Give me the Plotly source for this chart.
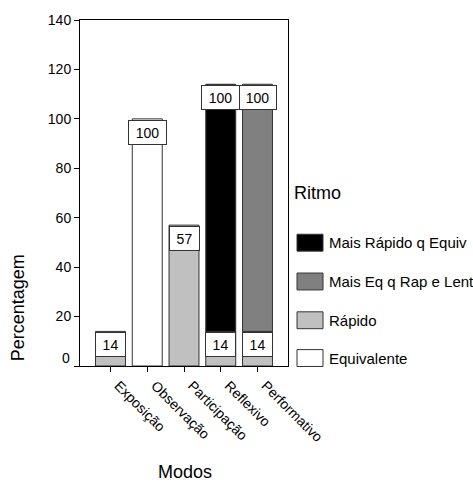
import plotly.graph_objects as go

# Data: percentage per mode, split by rhythm category
modos = ["Exposição", "Observação", "Participação", "Reflexivo", "Performativo"]
series_names = ["Equivalente", "Rápido", "Mais Eq q Rap e Lent", "Mais Rápido q Equiv"]
equivalente = [0, 100, 0, 0, 0]
rapido = [14, 0, 57, 14, 14]
mais_eq_q_rap_e_lent = [0, 0, 0, 0, 100]
mais_rapido_q_equiv = [0, 0, 0, 100, 0]
y_ticks = [0, 20, 40, 60, 80, 100, 120, 140]

series_values = [equivalente, rapido, mais_eq_q_rap_e_lent, mais_rapido_q_equiv]
series_colors = ["#ffffff", "#c0c0c0", "#808080", "#000000"]

FONT = "Liberation Sans"
W, H = 473, 483
M_L, M_R, M_T, M_B = 80, 185, 18, 117
PLOT_W = W - M_L - M_R
PLOT_H = H - M_T - M_B

fig = go.Figure()
annotations = []
base = [0] * len(modos)
for name, vals, color in zip(series_names, series_values, series_colors):
    ys = [v if v > 0 else None for v in vals]
    fig.add_trace(go.Bar(
        x=modos, y=ys, base=base[:], name=name,
        marker=dict(color=color, line=dict(color="#333333", width=1)),
        width=0.815, showlegend=False,
    ))
    for i, v in enumerate(vals):
        if v > 0:
            top = base[i] + v
            txt = str(v)
            annotations.append(dict(
                x=modos[i], y=top, xref="x", yref="y", text=txt,
                showarrow=False, yanchor="top", xanchor="center", yshift=-1,
                width=27 if len(txt) < 3 else 35, height=21,
                bgcolor="white", bordercolor="#333333", borderwidth=1, borderpad=1,
                font=dict(family=FONT, size=14, color="black"),
            ))
            base[i] = top

# "0" tick label sits slightly above the axis baseline
annotations.append(dict(
    x=0, y=0, xref="paper", yref="y", text="0", showarrow=False,
    xanchor="right", yanchor="middle", xshift=-8, yshift=8,
    font=dict(family=FONT, size=14, color="black"),
))

# Axis titles
annotations.append(dict(
    x=(18 - M_L) / PLOT_W, y=(H - M_B - 308) / PLOT_H, xref="paper", yref="paper",
    text="Percentagem", textangle=-90, showarrow=False,
    xanchor="center", yanchor="middle",
    font=dict(family=FONT, size=18, color="black"),
))
annotations.append(dict(
    x=(185 - M_L) / PLOT_W, y=(H - M_B - 473) / PLOT_H, xref="paper", yref="paper",
    text="Modos", showarrow=False, xanchor="center", yanchor="middle",
    font=dict(family=FONT, size=18, color="black"),
))

# Legend: title plus swatches, top entry is the top of the stack
shapes = []
annotations.append(dict(
    x=(292 - M_L) / PLOT_W, y=(H - M_B - 192) / PLOT_H, xref="paper", yref="paper",
    text="Ritmo", showarrow=False, xanchor="left", yanchor="middle",
    font=dict(family=FONT, size=18, color="black"),
))
legend_rows = [242, 281, 320, 358]
for py, name, color in zip(legend_rows, series_names[::-1], series_colors[::-1]):
    yc = (H - M_B - py) / PLOT_H
    hh = 8.5 / PLOT_H
    shapes.append(dict(
        type="rect", xref="paper", yref="paper",
        x0=(297 - M_L) / PLOT_W, x1=(323 - M_L) / PLOT_W, y0=yc - hh, y1=yc + hh,
        fillcolor=color, line=dict(color="#333333", width=1),
    ))
    annotations.append(dict(
        x=(327 - M_L) / PLOT_W, y=yc, xref="paper", yref="paper",
        text=name, showarrow=False, xanchor="left", yanchor="middle",
        font=dict(family=FONT, size=15, color="black"),
    ))

fig.update_layout(
    width=W, height=H,
    margin=dict(l=M_L, r=M_R, t=M_T, b=M_B),
    paper_bgcolor="white", plot_bgcolor="white",
    barmode="overlay",
    annotations=annotations, shapes=shapes,
    font=dict(family=FONT, size=14, color="black"),
    xaxis=dict(
        type="category", range=[-0.83, 4.83],
        showline=True, linecolor="black", linewidth=1, mirror=True,
        ticks="outside", ticklen=5, tickcolor="black",
        tickangle=45, ticklabelshift=8,
        tickfont=dict(family=FONT, size=14, color="black"),
        showgrid=False, zeroline=False,
    ),
    yaxis=dict(
        range=[0, 140], tickvals=y_ticks,
        ticktext=["" if t == 0 else str(t) for t in y_ticks],
        showline=True, linecolor="black", linewidth=1, mirror=True,
        ticks="outside", ticklen=5, tickcolor="black",
        tickfont=dict(family=FONT, size=14, color="black"),
        showgrid=False, zeroline=False,
    ),
)

fig.write_html("out.html")
